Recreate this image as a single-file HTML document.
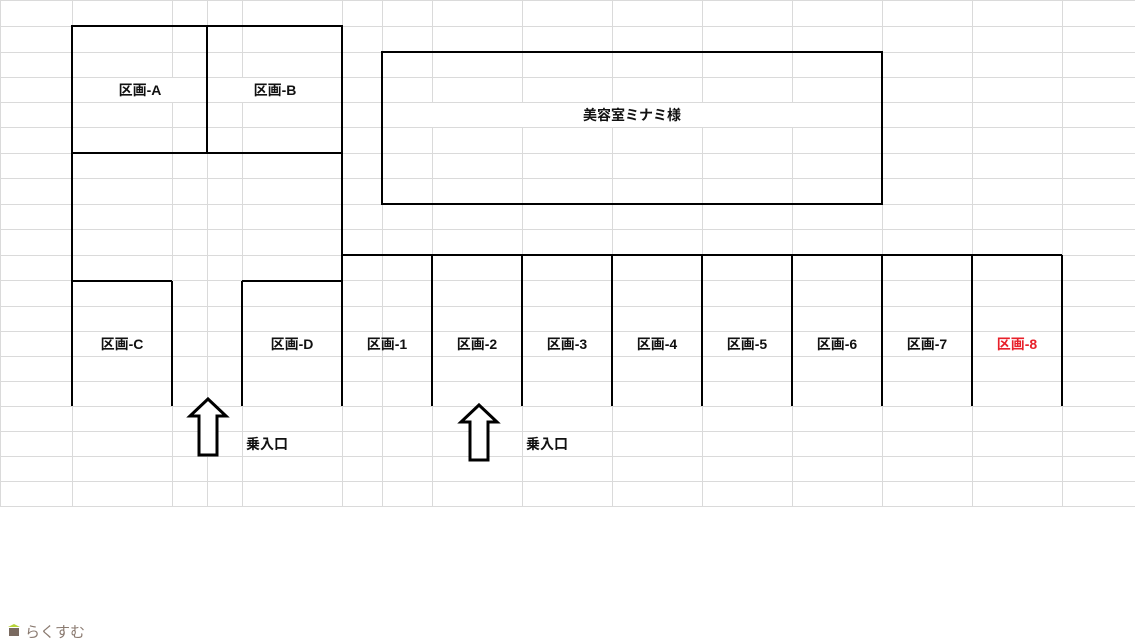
<!DOCTYPE html>
<html><head><meta charset="utf-8"><style>
html,body{margin:0;padding:0;background:#fff;width:1135px;height:642px;overflow:hidden}
svg{display:block}
text{font-family:"Liberation Sans","Noto Sans CJK JP",sans-serif;font-size:14px;font-weight:bold;fill:#111}
</style></head><body>
<svg width="1135" height="642" xmlns="http://www.w3.org/2000/svg">
<g stroke="#dadada" stroke-width="1">
<line x1="0" y1="0.5" x2="1135" y2="0.5"/>
<line x1="0" y1="26.5" x2="1135" y2="26.5"/>
<line x1="0" y1="52.5" x2="1135" y2="52.5"/>
<line x1="0" y1="77.5" x2="1135" y2="77.5"/>
<line x1="0" y1="102.5" x2="1135" y2="102.5"/>
<line x1="0" y1="127.5" x2="1135" y2="127.5"/>
<line x1="0" y1="153.5" x2="1135" y2="153.5"/>
<line x1="0" y1="178.5" x2="1135" y2="178.5"/>
<line x1="0" y1="204.5" x2="1135" y2="204.5"/>
<line x1="0" y1="229.5" x2="1135" y2="229.5"/>
<line x1="0" y1="255.5" x2="1135" y2="255.5"/>
<line x1="0" y1="280.5" x2="1135" y2="280.5"/>
<line x1="0" y1="306.5" x2="1135" y2="306.5"/>
<line x1="0" y1="331.5" x2="1135" y2="331.5"/>
<line x1="0" y1="356.5" x2="1135" y2="356.5"/>
<line x1="0" y1="381.5" x2="1135" y2="381.5"/>
<line x1="0" y1="406.5" x2="1135" y2="406.5"/>
<line x1="0" y1="431.5" x2="1135" y2="431.5"/>
<line x1="0" y1="456.5" x2="1135" y2="456.5"/>
<line x1="0" y1="481.5" x2="1135" y2="481.5"/>
<line x1="0" y1="506.5" x2="1135" y2="506.5"/>
<line x1="0.5" y1="0" x2="0.5" y2="506"/>
<line x1="72.5" y1="0" x2="72.5" y2="506"/>
<line x1="172.5" y1="0" x2="172.5" y2="506"/>
<line x1="207.5" y1="0" x2="207.5" y2="506"/>
<line x1="242.5" y1="0" x2="242.5" y2="506"/>
<line x1="342.5" y1="0" x2="342.5" y2="506"/>
<line x1="382.5" y1="0" x2="382.5" y2="506"/>
<line x1="432.5" y1="0" x2="432.5" y2="506"/>
<line x1="522.5" y1="0" x2="522.5" y2="506"/>
<line x1="612.5" y1="0" x2="612.5" y2="506"/>
<line x1="702.5" y1="0" x2="702.5" y2="506"/>
<line x1="792.5" y1="0" x2="792.5" y2="506"/>
<line x1="882.5" y1="0" x2="882.5" y2="506"/>
<line x1="972.5" y1="0" x2="972.5" y2="506"/>
<line x1="1062.5" y1="0" x2="1062.5" y2="506"/>
</g>
<!-- hide grid behind labels -->
<g fill="#fff">
<rect x="73" y="78" width="133" height="24"/>
<rect x="208" y="78" width="133" height="24"/>
<rect x="384" y="103" width="496" height="24"/>
</g>
<g stroke="#000" stroke-width="2" fill="none">
<rect x="72" y="26" width="270" height="127"/>
<line x1="207" y1="26" x2="207" y2="153"/>
<polyline points="72,153 72,406"/>
<polyline points="342,153 342,406"/>
<line x1="72" y1="281" x2="172" y2="281"/>
<line x1="172" y1="281" x2="172" y2="406"/>
<line x1="242" y1="281" x2="342" y2="281"/>
<line x1="242" y1="281" x2="242" y2="406"/>
<rect x="382" y="52" width="500" height="152"/>
<line x1="342" y1="255" x2="1062" y2="255"/>
<line x1="432" y1="255" x2="432" y2="406"/>
<line x1="522" y1="255" x2="522" y2="406"/>
<line x1="612" y1="255" x2="612" y2="406"/>
<line x1="702" y1="255" x2="702" y2="406"/>
<line x1="792" y1="255" x2="792" y2="406"/>
<line x1="882" y1="255" x2="882" y2="406"/>
<line x1="972" y1="255" x2="972" y2="406"/>
<line x1="1062" y1="255" x2="1062" y2="406"/>
</g>
<g stroke="#000" stroke-width="3" fill="#fff" stroke-linejoin="miter">
<polygon points="208,399 226,416 217,416 217,455 199,455 199,416 190,416"/>
<polygon points="479,405 497,422 488,422 488,460 470,460 470,422 461,422"/>
</g>
<g text-anchor="middle">
<text x="140" y="95">区画-A</text>
<text x="275" y="95">区画-B</text>
<text x="632" y="120">美容室ミナミ様</text>
<text x="122" y="349">区画-C</text>
<text x="292" y="349">区画-D</text>
<text x="387" y="349">区画-1</text>
<text x="477" y="349">区画-2</text>
<text x="567" y="349">区画-3</text>
<text x="657" y="349">区画-4</text>
<text x="747" y="349">区画-5</text>
<text x="837" y="349">区画-6</text>
<text x="927" y="349">区画-7</text>
<text x="1017" y="349" style="fill:#e8202a">区画-8</text>
</g>
<text x="246" y="449">乗入口</text>
<text x="526" y="449">乗入口</text>
<polygon points="14,624 20,627 8,627" fill="#b7d43a"/>
<rect x="9" y="628" width="10" height="8" fill="#7a6a60"/>
<text x="25" y="637" style="font-weight:normal;font-size:15px;fill:#8a7a70">らくすむ</text>
</svg>
</body></html>
